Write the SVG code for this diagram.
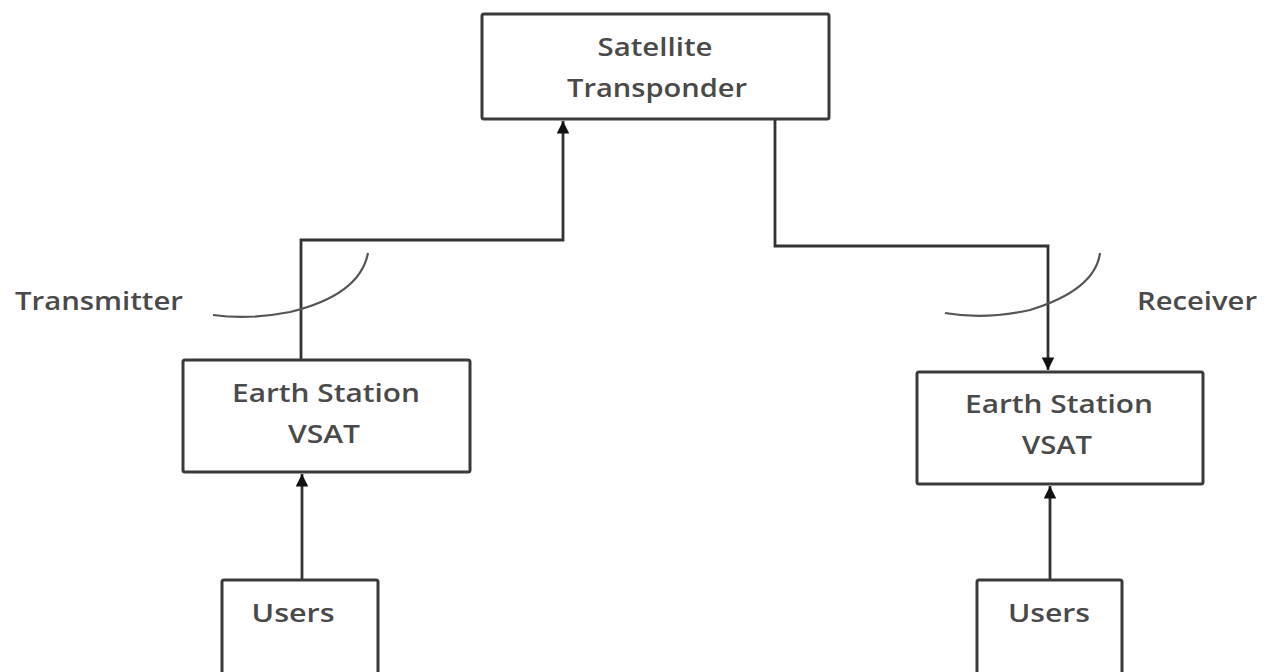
<svg xmlns="http://www.w3.org/2000/svg" width="1264" height="672" viewBox="0 0 1264 672">
<style>
.box{fill:#fff;stroke:#3a3a3a;stroke-width:3}
.t{font-family:"Open Sans","Noto Sans",sans-serif;font-size:26px;font-weight:600;fill:#4a4a4a;text-anchor:middle}
.lbl{font-family:"Open Sans","Noto Sans",sans-serif;font-size:26px;font-weight:600;fill:#4a4a4a}
.ln{fill:none;stroke:#333;stroke-width:2.8}
.arc{fill:none;stroke:#555;stroke-width:2.2}
</style>
<defs>
<marker id="ah" viewBox="0 0 10 10" refX="10" refY="5" markerWidth="4.5" markerHeight="4.5" orient="auto" markerUnits="strokeWidth">
<path d="M0,0 L10,5 L0,10 z" fill="#111"/>
</marker>
</defs>
<rect width="1264" height="672" fill="#fff"/>
<g id="connectors">
<path class="ln" d="M301,360 V240 H563 V121" marker-end="url(#ah)"/>
<path class="ln" d="M775,119 V246 H1048 V370" marker-end="url(#ah)"/>
<path class="ln" d="M302,580 V474" marker-end="url(#ah)"/>
<path class="ln" d="M1050,580 V486" marker-end="url(#ah)"/>
<path class="arc" d="M213,315 Q250,320 290,312 Q360,295 368,253"/>
<path class="arc" d="M945,313 Q985,320 1030,310 Q1095,290 1100,253"/>
</g>
<g id="satellite">
<rect class="box" x="482" y="14" width="347" height="105" rx="2"/>
<text class="t" x="655" y="56" textLength="115" lengthAdjust="spacingAndGlyphs">Satellite</text>
<text class="t" x="657" y="97" textLength="180" lengthAdjust="spacingAndGlyphs">Transponder</text>
</g>
<g id="es-left">
<rect class="box" x="183" y="360" width="287" height="112" rx="2"/>
<text class="t" x="326" y="402" textLength="188" lengthAdjust="spacingAndGlyphs">Earth Station</text>
<text class="t" x="324" y="443" textLength="72" lengthAdjust="spacingAndGlyphs">VSAT</text>
</g>
<g id="es-right">
<rect class="box" x="917" y="372" width="286" height="112" rx="2"/>
<text class="t" x="1059" y="413" textLength="188" lengthAdjust="spacingAndGlyphs">Earth Station</text>
<text class="t" x="1057" y="454" textLength="70" lengthAdjust="spacingAndGlyphs">VSAT</text>
</g>
<g id="users-left">
<rect class="box" x="222" y="580" width="156" height="100" rx="2"/>
<text class="t" x="293" y="622" textLength="83" lengthAdjust="spacingAndGlyphs">Users</text>
</g>
<g id="users-right">
<rect class="box" x="977" y="580" width="145" height="100" rx="2"/>
<text class="t" x="1049" y="622" textLength="82" lengthAdjust="spacingAndGlyphs">Users</text>
</g>
<g id="labels">
<text class="lbl" x="15" y="310" textLength="168" lengthAdjust="spacingAndGlyphs">Transmitter</text>
<text class="lbl" x="1137" y="310" textLength="120" lengthAdjust="spacingAndGlyphs">Receiver</text>
</g>
</svg>
